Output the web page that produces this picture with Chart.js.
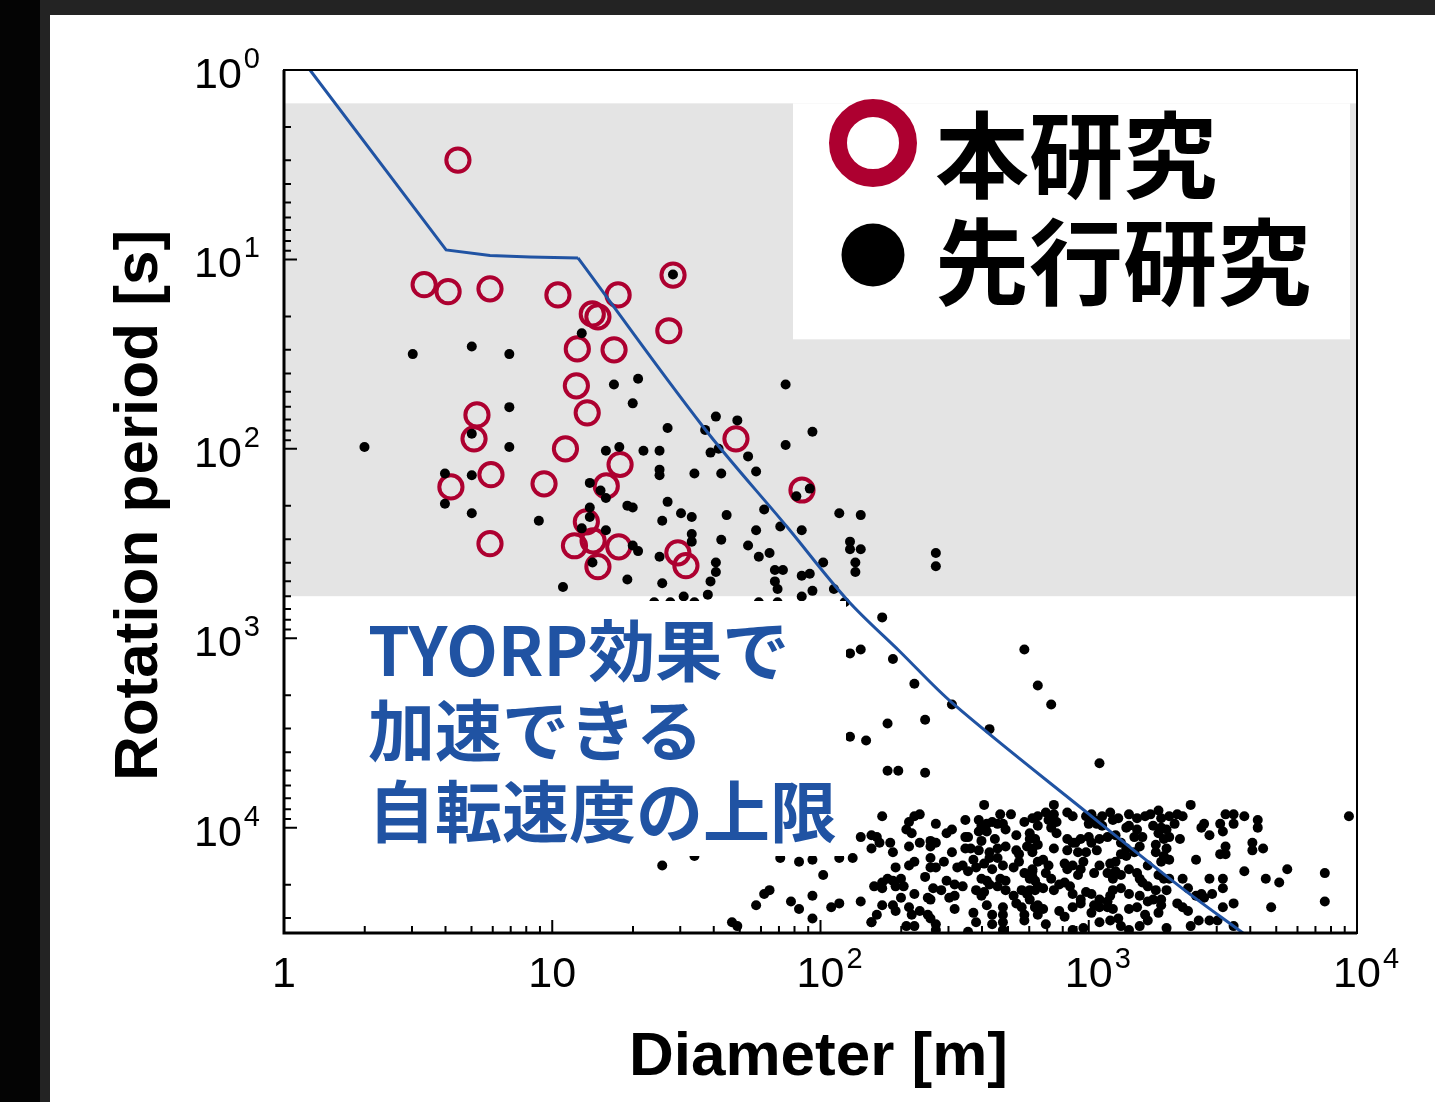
<!DOCTYPE html>
<html>
<head>
<meta charset="utf-8">
<style>
  html, body { margin: 0; padding: 0; background: #232323; overflow: hidden; }
  #wrap { width: 1435px; height: 1102px; }
</style>
<script src="https://cdn.jsdelivr.net/npm/chart.js@4.4.1/dist/chart.umd.min.js"></script>
</head>
<body>
<div id="wrap"><canvas id="c" width="1435" height="1102"></canvas></div>
<script>
// 本研究: 直径 [m] と自転周期 [s]
const thisDiameter = [4.45, 3.33, 4.09, 5.86, 10.5, 17.6, 28.2, 14.1, 14.8, 27.2, 12.4, 17.0, 12.3, 13.5, 5.24, 5.11,
  11.2, 48.4, 17.9, 5.91, 4.19, 9.32, 15.9, 85.3, 13.4, 12.1, 14.2, 17.7, 14.8, 29.4, 31.5, 5.86];
const thisPeriod = [2.99, 13.6, 14.8, 14.3, 15.4, 15.4, 12.1, 19.4, 20.1, 23.8, 29.7, 30.0, 46.5, 64.6, 66.2, 88.6,
  100, 88.6, 121, 137, 159, 153, 157, 165, 243, 325, 306, 329, 419, 354, 414, 317];

// 先行研究: [log10 直径, log10 周期]
const prevLog = [
  [0.48,1.50],[0.70,1.46],[0.84,1.50],[1.11,1.39],[1.45,1.08],[1.23,1.66],[1.32,1.63],[1.30,1.76],[0.84,1.78],
  [0.70,1.92],[0.84,1.99],[0.30,1.99],[1.20,2.01],[1.25,1.99],[1.34,2.01],[1.40,2.01],[0.60,2.13],[0.70,2.14],
  [0.60,2.29],[0.70,2.34],[1.14,2.18],[1.18,2.22],[1.20,2.26],[1.28,2.30],[1.30,2.31],[1.40,2.11],[1.40,2.14],
  [0.95,2.38],[1.14,2.31],[1.14,2.36],[1.11,2.42],[1.20,2.43],[1.30,2.51],[1.32,2.54],[1.40,2.57],[1.15,2.60],
  [1.28,2.69],[1.04,2.73],[1.43,1.89],[1.57,1.90],[1.61,1.83],[1.69,1.85],[1.87,1.66],[1.97,1.91],[1.87,1.98],
  [1.62,2.00],[1.59,2.02],[1.73,2.04],[1.76,2.12],[1.63,2.13],[1.53,2.13],[1.43,2.28],[1.41,2.38],[1.48,2.34],
  [1.52,2.36],[1.65,2.35],[1.79,2.32],[1.85,2.41],[1.93,2.43],[1.76,2.43],[1.52,2.45],[1.52,2.49],[1.63,2.48],
  [1.73,2.51],[1.81,2.55],[1.77,2.57],[2.07,2.34],[2.15,2.35],[2.11,2.49],[2.11,2.53],[2.15,2.53],[2.13,2.60],
  [2.13,2.65],[2.01,2.60],[1.41,2.71],[1.49,2.78],[1.58,2.77],[1.59,2.70],[1.61,2.60],[1.61,2.65],[1.83,2.64],
  [1.86,2.64],[1.83,2.70],[1.84,2.74],[1.93,2.67],[1.96,2.66],[1.93,2.78],[1.97,2.75],[2.05,2.74],[1.91,2.25],
  [1.96,2.21],[2.43,2.55],[2.43,2.62],[1.38,2.81],[1.44,2.81],[1.53,2.81],[1.77,2.81],[1.84,2.81],[2.09,2.81],
  [2.23,2.89],[2.11,3.08],[2.15,3.06],[2.27,3.11],[2.35,3.24],[2.25,3.45],[2.39,3.43],[2.49,3.35],[2.63,3.48],
  [2.76,3.06],[2.81,3.25],[2.86,3.35],[3.04,3.66],[2.11,3.52],[2.17,3.54],[2.25,3.70],[2.29,3.70],[2.39,3.71],
  [2.23,3.94],
  [1.41,4.20],[1.53,4.15],[1.67,4.50],[1.69,4.52],[1.76,4.41],[1.79,4.35],[1.81,4.33],[1.89,4.39],[1.85,4.16],
  [1.92,4.18],[1.97,4.17],[2.01,4.25],[1.97,4.36],[1.92,4.43],[1.97,4.48],[2.04,4.42],[2.07,4.40],[2.07,4.16],
  [2.12,4.16],[2.15,4.05],[2.15,4.39],[2.19,4.50],
  [2.19,4.04],[2.21,4.05],[2.22,4.08],[2.19,4.11],[2.26,4.08],[2.27,4.13],[2.32,4.01],[2.33,3.97],[2.35,3.94],
  [2.37,3.93],[2.34,4.03],[2.33,4.10],[2.37,4.08],[2.41,4.07],[2.43,4.08],[2.41,4.10],[2.43,3.98],[2.47,4.03],
  [2.49,4.01],[2.49,4.13],[2.54,3.96],[2.54,4.05],[2.55,4.05],[2.54,4.11],[2.56,4.11],[2.59,3.96],[2.60,3.99],
  [2.62,3.98],[2.64,3.97],[2.66,3.98],[2.68,3.98],[2.67,3.93],[2.71,3.93],[2.61,3.88],[2.59,4.02],[2.62,4.02],
  [2.65,4.06],[2.69,4.01],[2.73,4.04],[2.76,3.97],[2.79,3.95],[2.78,4.06],[2.77,4.10],[2.81,4.09],[2.79,4.13],
  [2.60,4.07],[2.59,4.12],[2.63,4.13],[2.66,4.11],[2.69,4.10],[2.73,4.12],[2.74,4.14],
  [2.28,4.21],[2.33,4.20],[2.35,4.18],[2.41,4.16],[2.41,4.21],[2.43,4.21],[2.46,4.18],[2.51,4.21],[2.53,4.20],
  [2.55,4.23],[2.57,4.17],[2.58,4.21],[2.61,4.19],[2.63,4.16],[2.64,4.22],[2.66,4.16],[2.68,4.20],[2.72,4.21],
  [2.74,4.18],[2.76,4.24],[2.79,4.26],[2.79,4.22],[2.80,4.28],[2.39,4.26],
  [2.20,4.31],[2.23,4.29],[2.25,4.27],[2.27,4.28],[2.28,4.31],[2.30,4.27],[2.23,4.32],[2.31,4.31],[2.35,4.35],
  [2.30,4.37],[2.42,4.32],[2.45,4.33],[2.47,4.28],[2.50,4.30],[2.53,4.31],[2.58,4.33],[2.60,4.27],[2.62,4.28],
  [2.63,4.30],[2.61,4.34],[2.60,4.36],[2.66,4.31],[2.67,4.27],[2.69,4.28],[2.69,4.33],[2.72,4.36],[2.75,4.33],
  [2.77,4.35],[2.78,4.38],[2.80,4.33],[2.81,4.41],
  [2.23,4.41],[2.27,4.41],[2.28,4.44],[2.40,4.37],[2.41,4.38],[2.48,4.37],[2.50,4.36],[2.33,4.42],[2.34,4.46],
  [2.37,4.44],[2.40,4.46],[2.41,4.48],[2.50,4.43],[2.57,4.45],[2.62,4.41],[2.64,4.46],[2.68,4.42],[2.68,4.46],
  [2.73,4.40],[2.75,4.42],[2.76,4.46],[2.80,4.42],[2.81,4.46],[2.21,4.46],[2.19,4.50],[2.32,4.52],[2.35,4.52],
  [2.43,4.51],[2.43,4.54],[2.58,4.50],[2.64,4.51],[2.68,4.50],[2.68,4.54],[2.76,4.49],[2.55,4.55],
  [2.87,3.88],[2.81,3.94],[2.84,3.92],[2.85,3.96],[2.88,3.97],[2.87,3.93],[2.92,3.92],[2.94,3.94],[2.99,3.94],
  [3.01,3.93],[3.02,3.96],[3.00,3.98],[3.03,3.98],[3.05,3.94],[3.08,3.92],[3.09,3.96],[3.11,3.95],[3.05,3.99],
  [3.15,3.93],[3.18,3.95],[3.21,3.94],[3.23,3.93],[3.26,3.91],[3.27,3.95],[3.30,3.94],[3.33,3.93],[3.32,3.98],
  [3.35,3.94],[3.38,3.88],[3.43,3.98],[3.42,4.00],[3.45,4.04],[3.49,3.98],[3.50,4.02],[3.51,3.93],
  [2.81,3.99],[2.78,4.03],[2.80,4.06],[2.79,4.11],[2.86,4.00],[2.88,4.03],[2.92,4.06],[2.95,4.08],[2.97,4.06],
  [3.00,4.05],[3.01,4.08],[3.04,4.06],[3.07,4.05],[3.10,4.04],[3.14,4.00],[3.15,3.99],[3.18,4.01],[3.17,4.05],
  [3.20,4.05],[3.24,3.99],[3.26,4.03],[3.27,4.00],[3.29,4.01],[3.28,4.06],[3.30,4.05],[3.34,4.06],
  [2.87,4.11],[2.92,4.12],[2.94,4.08],[2.96,4.13],[2.99,4.13],[3.03,4.12],[3.12,4.08],[3.14,4.11],[3.17,4.13],
  [3.19,4.10],[3.25,4.09],[3.25,4.13],[3.29,4.11],[3.28,4.15],[3.27,4.18],[3.30,4.17],
  [2.81,4.18],[2.83,4.17],[2.85,4.20],[2.79,4.23],[2.84,4.24],[2.86,4.27],[2.78,4.27],[2.91,4.19],[2.92,4.22],
  [2.94,4.20],[2.97,4.22],[2.98,4.18],[2.96,4.25],[3.02,4.24],[3.04,4.20],[3.08,4.19],[3.10,4.18],[3.12,4.14],
  [3.14,4.15],[3.07,4.24],[3.10,4.23],[3.09,4.27],[3.12,4.25],[3.15,4.22],[3.18,4.24],[3.19,4.27],[3.22,4.20],
  [3.20,4.29],[3.22,4.31],[3.26,4.25],[3.28,4.27],[3.30,4.27],[3.35,4.27],[3.37,4.32],[3.40,4.36],[3.43,4.37],
  [3.46,4.35],[3.50,4.27],[3.50,4.32],[3.45,4.27],[3.40,4.17],[3.51,4.14],[3.49,4.14],
  [2.78,4.33],[2.81,4.31],[2.83,4.32],[2.87,4.33],[2.89,4.30],[2.91,4.29],[2.93,4.31],[2.94,4.35],[2.97,4.38],
  [2.99,4.34],[3.01,4.35],[3.02,4.41],[3.04,4.38],[3.07,4.39],[3.08,4.36],[3.09,4.33],[3.12,4.32],[3.15,4.35],
  [3.19,4.36],[3.22,4.39],[3.24,4.38],[3.27,4.38],[3.29,4.33],[3.25,4.33],[3.33,4.40],[3.35,4.42],[3.37,4.44],
  [3.42,4.35],
  [2.80,4.42],[2.83,4.43],[2.89,4.44],[2.91,4.47],[2.94,4.42],[2.97,4.40],[3.01,4.45],[3.04,4.42],[3.07,4.42],
  [3.09,4.43],[3.11,4.48],[3.15,4.43],[3.18,4.42],[3.21,4.46],[3.27,4.41],[3.26,4.45],
  [2.84,4.51],[2.94,4.54],[2.98,4.53],[3.04,4.50],[3.08,4.49],[3.12,4.52],[3.15,4.54],[3.19,4.52],[3.22,4.49],
  [3.29,4.53],[3.38,4.52],[3.41,4.49],[3.45,4.49],[3.48,4.49],[3.50,4.42],
  [3.54,3.93],[3.58,3.94],[3.63,3.96],[3.63,4.00],[3.97,3.94],[3.61,4.08],[3.61,4.12],[3.65,4.11],[3.58,4.23],
  [3.66,4.27],[3.71,4.29],[3.74,4.22],[3.88,4.24],[3.88,4.39],[3.68,4.42],[3.54,4.40],[3.54,4.52],[3.54,3.98],
  [3.51,4.10]
];

// YORP 加速の上限 (青線): 折れ線部分 + 滑らかな曲線部分
const limitDiameter = [1.25, 4.02, 5.86, 8.26, 12.47, 36.5, 75.0, 125.6, 198, 312, 985, 2188, 3758];
const limitPeriod = [1.0, 8.91, 9.53, 9.70, 9.82, 76.5, 258, 626, 1178, 2216, 8333, 20480, 36000];
const limitKnee = 4; // 12.5 m から先は曲線

// 灰色帯の範囲 [s]
const bandTop = 1.5;
const bandBottom = 600;

// 軸
const xMin = 1, xMax = 10000;
const yMin = 1, yMax = 36000;
const xTickValues = [1, 10, 100, 1000, 10000];
const xTickLabels = [['1', ''], ['10', ''], ['10', '2'], ['10', '3'], ['10', '4']];
const yTickValues = [1, 10, 100, 1000, 10000];
const yTickLabels = [['10', '0'], ['10', '1'], ['10', '2'], ['10', '3'], ['10', '4']];

const xTitle = 'Diameter [m]';
const yTitle = 'Rotation period [s]';
const legendLabels = ['本研究', '先行研究'];
const noteLines = ['TYORP効果で', '加速できる', '自転速度の上限'];

const RED = '#ad0030';
const BLUE = '#2053a3';
const LATIN = '"Liberation Sans", Arial, sans-serif';
const CJK = '"Noto Sans CJK JP", "Noto Sans CJK SC", sans-serif';

const decorations = {
  id: 'decorations',
  beforeDraw(chart) {
    const { ctx, width, height } = chart;
    ctx.save();
    ctx.fillStyle = '#232323';
    ctx.fillRect(0, 0, width, height);
    ctx.fillStyle = '#040404';
    ctx.fillRect(0, 0, 40, height);
    ctx.fillStyle = '#ffffff';
    ctx.fillRect(50, 15, width - 50, height - 15);
    ctx.restore();
  },
  beforeDatasetsDraw(chart) {
    const { ctx, chartArea: a, scales: { y } } = chart;
    const y1 = y.getPixelForValue(bandTop);
    const y2 = y.getPixelForValue(bandBottom);
    ctx.save();
    ctx.fillStyle = '#e4e4e4';
    ctx.fillRect(a.left, y1, a.right - a.left, y2 - y1);
    ctx.restore();
  },
  afterDatasetsDraw(chart) {
    const { ctx, chartArea: a, scales: { x, y } } = chart;
    ctx.save();

    // 注釈 (白地で点を隠す)
    ctx.fillStyle = '#ffffff';
    ctx.fillRect(355, 601, 491, 255);
    ctx.fillStyle = BLUE;
    ctx.font = `700 67px ${CJK}`;
    ctx.textAlign = 'left';
    ctx.textBaseline = 'middle';
    const noteY = [651, 731, 812];
    noteLines.forEach((t, i) => ctx.fillText(t, 368, noteY[i]));

    // 凡例
    ctx.fillStyle = '#ffffff';
    ctx.fillRect(793, y.getPixelForValue(bandTop), 557, 236);
    ctx.strokeStyle = RED;
    ctx.lineWidth = 18;
    ctx.beginPath();
    ctx.arc(873, 143, 35, 0, Math.PI * 2);
    ctx.stroke();
    ctx.fillStyle = '#000';
    ctx.beginPath();
    ctx.arc(873, 255, 31.5, 0, Math.PI * 2);
    ctx.fill();
    ctx.font = `700 94px ${CJK}`;
    ctx.fillText(legendLabels[0], 935, 155);
    ctx.fillText(legendLabels[1], 935, 262);

    // 枠
    ctx.strokeStyle = '#000';
    ctx.lineWidth = 2;
    ctx.strokeRect(a.left, a.top, a.right - a.left, a.bottom - a.top);
    ctx.lineWidth = 3;
    ctx.beginPath();
    ctx.moveTo(a.left, a.top);
    ctx.lineTo(a.left, a.bottom);
    ctx.lineTo(a.right, a.bottom);
    ctx.stroke();

    // 目盛り (内向き)
    ctx.lineWidth = 2;
    ctx.beginPath();
    [1, 10, 100, 1000].forEach(d => {
      for (let m = 1; m <= 9; m++) {
        const v = d * m;
        if (v <= xMin || v >= xMax) continue;
        const px = x.getPixelForValue(v);
        ctx.moveTo(px, a.bottom);
        ctx.lineTo(px, a.bottom - (m === 1 ? 13 : 7));
      }
    });
    [1, 10, 100, 1000, 10000].forEach(d => {
      for (let m = 1; m <= 9; m++) {
        const v = d * m;
        if (v <= yMin || v >= yMax) continue;
        const py = y.getPixelForValue(v);
        ctx.moveTo(a.left, py);
        ctx.lineTo(a.left + (m === 1 ? 13 : 7), py);
      }
    });
    ctx.stroke();

    // 目盛りラベル
    ctx.fillStyle = '#000';
    ctx.textBaseline = 'alphabetic';
    const big = `43px ${LATIN}`, small = `29px ${LATIN}`;
    xTickValues.forEach((v, i) => {
      const [base, exp] = xTickLabels[i];
      const px = x.getPixelForValue(v);
      ctx.font = big;
      const w = ctx.measureText(base).width;
      ctx.textAlign = 'left';
      ctx.fillText(base, px - w / 2, a.bottom + 54);
      if (exp) {
        ctx.font = small;
        ctx.fillText(exp, px + w / 2 + 2, a.bottom + 35);
      }
    });
    yTickValues.forEach((v, i) => {
      const [base, exp] = yTickLabels[i];
      const py = y.getPixelForValue(v);
      ctx.font = small;
      const we = ctx.measureText(exp).width;
      const right = a.left - 24;
      ctx.textAlign = 'left';
      ctx.fillText(exp, right - we, py - 2);
      ctx.font = big;
      ctx.textAlign = 'right';
      ctx.fillText(base, right - we - 2, py + 18);
    });

    // 軸タイトル
    ctx.font = `700 62px ${LATIN}`;
    ctx.textAlign = 'center';
    ctx.fillText(xTitle, (a.left + a.right) / 2 - 2, 1075);
    ctx.translate(157, (a.top + a.bottom) / 2 + 4);
    ctx.rotate(-Math.PI / 2);
    ctx.fillText(yTitle, 0, 0);

    ctx.restore();
  }
};

const limitPoints = limitDiameter.map((d, i) => ({ x: d, y: limitPeriod[i] }));
const lineStyle = { type: 'line', borderColor: BLUE, borderWidth: 3, pointRadius: 0, fill: false, order: 0 };

new Chart(document.getElementById('c'), {
  type: 'scatter',
  data: {
    datasets: [
      { ...lineStyle, data: limitPoints.slice(0, limitKnee + 1), tension: 0 },
      { ...lineStyle, data: limitPoints.slice(limitKnee), tension: 0.35 },
      {
        data: prevLog.map(([ld, lp]) => ({ x: Math.pow(10, ld), y: Math.pow(10, lp) })),
        backgroundColor: '#000',
        borderWidth: 0,
        pointRadius: 5,
        order: 1,
      },
      {
        data: thisDiameter.map((d, i) => ({ x: d, y: thisPeriod[i] })),
        backgroundColor: 'rgba(0,0,0,0)',
        borderColor: RED,
        borderWidth: 4,
        pointRadius: 11.6,
        order: 2,
      },
    ],
  },
  options: {
    responsive: false,
    animation: false,
    devicePixelRatio: 1,
    events: [],
    layout: { padding: { left: 284, top: 70, right: 78, bottom: 169 } },
    scales: {
      x: { type: 'logarithmic', min: xMin, max: xMax, display: false },
      y: { type: 'logarithmic', min: yMin, max: yMax, reverse: true, display: false },
    },
    plugins: {
      legend: { display: false },
      tooltip: { enabled: false },
    },
  },
  plugins: [decorations],
});
</script>
</body>
</html>
